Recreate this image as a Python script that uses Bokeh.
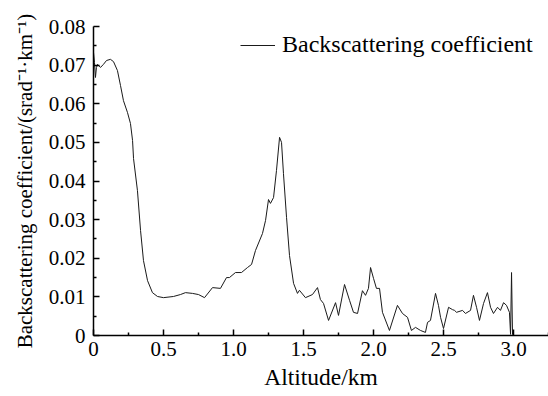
from bokeh.plotting import figure
from bokeh.models import Range1d, FixedTicker, CustomJSTickFormatter, Legend, LegendItem
from bokeh.embed import file_html
from bokeh.resources import INLINE

# Altitude (km) and backscattering coefficient (srad^-1 km^-1)
altitude = [0.000, 0.007, 0.014, 0.021, 0.029, 0.050, 0.071, 0.093, 0.121, 0.143,
            0.171, 0.193, 0.214, 0.243, 0.264, 0.279, 0.286, 0.314, 0.336, 0.357,
            0.386, 0.421, 0.457, 0.500, 0.571, 0.621, 0.657, 0.707, 0.750, 0.793,
            0.850, 0.907, 0.950, 0.971, 1.014, 1.057, 1.100, 1.129, 1.157, 1.207,
            1.229, 1.250, 1.264, 1.286, 1.307, 1.329, 1.343, 1.357, 1.379, 1.400,
            1.429, 1.457, 1.471, 1.514, 1.564, 1.600, 1.621, 1.643, 1.679, 1.729,
            1.750, 1.793, 1.829, 1.857, 1.886, 1.921, 1.943, 1.964, 1.979, 2.000,
            2.021, 2.043, 2.064, 2.114, 2.171, 2.207, 2.243, 2.271, 2.300, 2.336,
            2.371, 2.386, 2.407, 2.443, 2.464, 2.479, 2.500, 2.536, 2.564, 2.579,
            2.593, 2.636, 2.657, 2.693, 2.714, 2.736, 2.757, 2.786, 2.814, 2.836,
            2.857, 2.886, 2.907, 2.929, 2.950, 2.971, 2.979, 2.986, 2.993, 3.000]
backscatter = [0.0733, 0.0707, 0.0668, 0.0694, 0.0702, 0.0694, 0.0702, 0.0712, 0.0715, 0.0709,
               0.0686, 0.0647, 0.0608, 0.0577, 0.0549, 0.0505, 0.0458, 0.0375, 0.0272, 0.0194,
               0.0142, 0.0111, 0.0101, 0.0098, 0.0101, 0.0106, 0.0111, 0.0109, 0.0106, 0.0098,
               0.0124, 0.0122, 0.0150, 0.0150, 0.0163, 0.0163, 0.0176, 0.0184, 0.0220, 0.0264,
               0.0298, 0.0352, 0.0342, 0.0357, 0.0427, 0.0513, 0.0500, 0.0419, 0.0305, 0.0207,
               0.0135, 0.0109, 0.0117, 0.0098, 0.0106, 0.0124, 0.0093, 0.0083, 0.0039, 0.0085,
               0.0052, 0.0132, 0.0091, 0.0060, 0.0057, 0.0116, 0.0104, 0.0122, 0.0176, 0.0148,
               0.0122, 0.0122, 0.0060, 0.0013, 0.0078, 0.0057, 0.0047, 0.0013, 0.0021, 0.0013,
               0.0008, 0.0034, 0.0039, 0.0109, 0.0078, 0.0047, 0.0018, 0.0073, 0.0067, 0.0065,
               0.0060, 0.0065, 0.0057, 0.0065, 0.0104, 0.0073, 0.0039, 0.0083, 0.0111, 0.0073,
               0.0057, 0.0073, 0.0065, 0.0085, 0.0078, 0.0060, 0.0003, 0.0163, 0.0003, 0.0000]

x_ticks = [0, 0.5, 1.0, 1.5, 2.0, 2.5, 3.0]
x_minor = [0.25, 0.75, 1.25, 1.75, 2.25, 2.75, 3.25]
y_ticks = [0, 0.01, 0.02, 0.03, 0.04, 0.05, 0.06, 0.07, 0.08]
y_minor = [0.005, 0.015, 0.025, 0.035, 0.045, 0.055, 0.065, 0.075]

FONT = "Liberation Serif"

p = figure(width=548, height=396, output_backend="svg", toolbar_location=None,
           x_range=Range1d(0, 3.25), y_range=Range1d(0, 0.08),
           min_border_left=93, min_border_right=0, min_border_top=26, min_border_bottom=61)
p.outline_line_color = None
p.xgrid.visible = False
p.ygrid.visible = False
p.background_fill_color = "white"
p.border_fill_color = "white"

r = p.line(altitude, backscatter, line_color="#1a1a1a", line_width=1)

xa = p.xaxis[0]
ya = p.yaxis[0]
xa.ticker = FixedTicker(ticks=x_ticks, minor_ticks=x_minor)
ya.ticker = FixedTicker(ticks=y_ticks, minor_ticks=y_minor)
xa.formatter = CustomJSTickFormatter(code="return tick == 0 ? '0' : tick.toFixed(1);")
ya.formatter = CustomJSTickFormatter(code="return tick == 0 ? '0' : tick.toFixed(2);")

for ax in (xa, ya):
    ax.axis_line_width = 1.5
    ax.axis_line_color = "black"
    ax.major_tick_in = 6
    ax.major_tick_out = 0
    ax.minor_tick_in = 3
    ax.minor_tick_out = 0
    ax.major_tick_line_width = 1.5
    ax.minor_tick_line_width = 1.5
    ax.major_label_text_color = "black"
    ax.axis_label_text_color = "black"
    ax.major_label_text_font = FONT
    ax.axis_label_text_font = FONT
    ax.axis_label_text_font_style = "normal"
    ax.major_label_text_font_size = "21px"

xa.axis_label = "Altitude/km"
xa.axis_label_text_font_size = "23.5px"
ya.axis_label = "Backscattering coefficient/(srad\u207b\u00b9\u00b7km\u207b\u00b9)"
ya.axis_label_text_font_size = "21px"
xa.major_label_standoff = 6
ya.major_label_standoff = 8
xa.axis_label_standoff = 5
ya.axis_label_standoff = 9

legend = Legend(items=[LegendItem(label="Backscattering coefficient", renderers=[r])],
                location=(143, 273))
legend.label_text_font = FONT
legend.label_text_font_size = "24px"
legend.label_text_color = "black"
legend.border_line_alpha = 0
legend.background_fill_alpha = 0
legend.glyph_width = 35
legend.glyph_height = 24
legend.label_height = 24
legend.label_standoff = 7
legend.margin = 0
legend.padding = 4
p.add_layout(legend)

open("out.html", "w").write(file_html(p, INLINE))
